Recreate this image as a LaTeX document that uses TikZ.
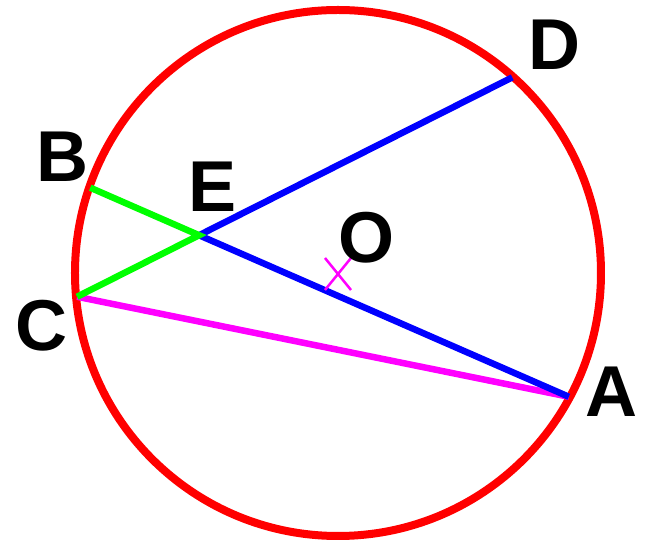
\documentclass[tikz,border=0pt]{standalone}
\usepackage{fontspec}
\setmainfont{Liberation Sans}
\usepackage{tikz}
\definecolor{rim}{HTML}{FF0000}
\definecolor{chordD}{HTML}{0000FF}
\definecolor{chordB}{HTML}{00FF00}
\definecolor{chordC}{HTML}{FF00FF}

\begin{document}
\begin{tikzpicture}[x=0.02cm, y=0.02cm,
  lbl/.style={inner sep=0pt, font=\fontsize{41}{41}\selectfont\bfseries},
  chord/.style={line width=0.13cm}]
\useasboundingbox (-338,-271) rectangle (312,273);
\coordinate (O) at (0,0);
\coordinate (D) at (48.3:262);
\coordinate (A) at (-28.2:262);
\coordinate (C) at (185.2:262);
\coordinate (B) at (161:262);
\coordinate (E) at (intersection of B--A and C--D);
\draw[rim, line width=0.16cm] (O) circle (263);
\draw[chord, chordC] (C) -- (A);
\draw[chord, chordD] (D) -- (E) -- (A);
\draw[chord, chordB] (B) -- (E) -- (C);
\draw[chordC, line width=0.05cm] (-13,15) -- (13,-17) (13,15) -- (-13,-17);
\node[lbl] (tD) at (217,228) {D};
\node[lbl] (tB) at (-275,116) {B};
\node[lbl] (tE) at (-125,86) {E};
\node[lbl] (tO) at (29,35) {O};
\node[lbl] (tC) at (-296,-53) {C};
\node[lbl] (tA) at (274,-119) {A};
\end{tikzpicture}
\end{document}
